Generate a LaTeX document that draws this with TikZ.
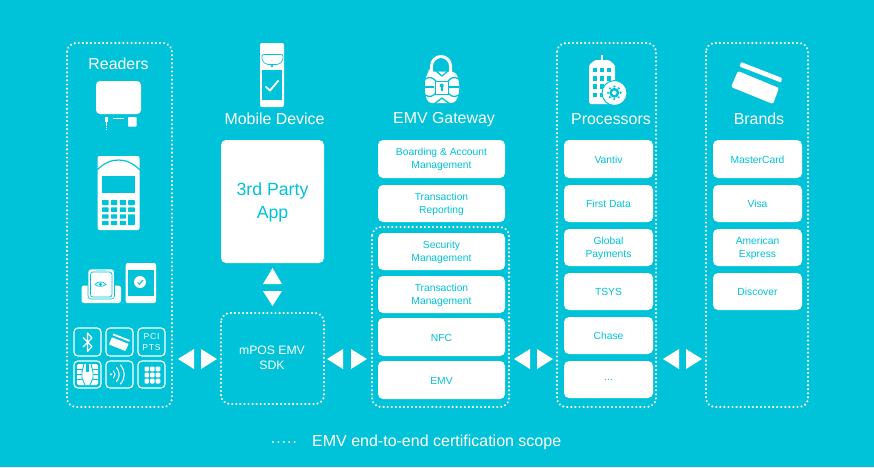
\documentclass[tikz,border=0pt]{standalone}
\usepackage{fontspec}
\setmainfont{Liberation Sans}
\newfontfamily\spacedfont[LetterSpace=9]{Liberation Sans}
\definecolor{teal0}{HTML}{00C3D9}
\tikzset{
  dotbox/.style={draw=white,line width=2.4pt,line cap=round,dash pattern=on 0.01pt off 4.05pt,rounded corners=9pt},
  wb/.style={fill=white,rounded corners=5pt,inner sep=0pt,outer sep=0pt},
  wbt/.style={text=teal0,inner sep=0pt,outer sep=0pt,align=center,font=\fontsize{10.3}{13}\selectfont},
  head/.style={text=white,inner sep=0pt,font=\fontsize{15.9}{18}\selectfont},
  iconline/.style={draw=white,line width=1.2pt,rounded corners=4pt},
  wave/.style={draw=white,line width=1.1pt,line cap=round},
  lockcut/.style={draw=teal0,line width=1.3pt}
}
\newcommand{\wbox}[6]{\node[wb,minimum width={(#4-#2)*1pt},minimum height={(#5-#3)*1pt}] (#1) at ({(#2+#4)/2},{(#3+#5)/2}) {};
\node[wbt] (#1t) at ([yshift=-0.7pt]#1.center) {#6};}
\newcommand{\lefttri}[1]{\fill[white] (#1) ++(-8,0) -- ++(16,-10) -- ++(0,20) -- cycle;}
\newcommand{\righttri}[1]{\fill[white] (#1) ++(8,0) -- ++(-16,-10) -- ++(0,20) -- cycle;}
\begin{document}
\begin{tikzpicture}[x=1pt,y=-1pt]
\fill[teal0] (0,0) rectangle (874,467);
\useasboundingbox (0,0) rectangle (874,467);
% dotted scopes
\draw[dotbox] (67,43) rectangle (172,407);
\draw[dotbox] (221,313) rectangle (324,404);
\draw[dotbox] (372,227) rectangle (509,407);
\draw[dotbox] (557,43) rectangle (656,407);
\draw[dotbox] (706,43) rectangle (808,407);
% headings
\node[head] (hr) at (118.5,63.5) {Readers};
\node[head] (hm) at (274.5,119.3) {Mobile Device};
\node[head] (hg) at (444,119.3) {EMV Gateway};
\node[head] (hp) at (611,119.3) {Processors};
\node[head] (hb) at (759,119.3) {Brands};
% white boxes
\node[wb,minimum width=103pt,minimum height=123pt] (app) at (272.5,201.5) {};
\node[wbt,font=\fontsize{17.7}{23}\selectfont] (appt) at (272.5,202.5) {3rd Party\\App};
\node[text=white,inner sep=0pt,align=center,font=\fontsize{12.2}{15}\selectfont] (sdk) at (272,358) {mPOS EMV\\SDK};
\wbox{g1}{378}{140}{505}{178}{Boarding \& Account\\Management}
\wbox{g2}{378}{185}{505}{222}{Transaction\\Reporting}
\wbox{g3}{378}{233}{505}{270}{Security\\Management}
\wbox{g4}{378}{276}{505}{313}{Transaction\\Management}
\wbox{g5}{378}{318}{505}{356}{NFC}
\wbox{g6}{378}{361}{505}{399}{EMV}
\wbox{p1}{564}{140}{653}{178}{Vantiv}
\wbox{p2}{564}{185}{653}{222}{First Data}
\wbox{p3}{564}{229}{653}{266}{Global\\Payments}
\wbox{p4}{564}{273}{653}{310}{TSYS}
\wbox{p5}{564}{317}{653}{354}{Chase}
\wbox{p6}{564}{361}{653}{398}{...}
\wbox{b1}{713}{140}{802}{178}{MasterCard}
\wbox{b2}{713}{185}{802}{222}{Visa}
\wbox{b3}{713}{229}{802}{266}{American\\Express}
\wbox{b4}{713}{273}{802}{310}{Discover}
% triangle arrows
\coordinate (a1l) at (186,359); \coordinate (a1r) at (209,359);
\coordinate (a2l) at (335,359); \coordinate (a2r) at (359,359);
\coordinate (a3l) at (522,359); \coordinate (a3r) at (545,359);
\coordinate (a4l) at (671,359); \coordinate (a4r) at (694,359);
\lefttri{a1l}\righttri{a1r}\lefttri{a2l}\righttri{a2r}\lefttri{a3l}\righttri{a3r}\lefttri{a4l}\righttri{a4r}
\coordinate (up) at (272.5,268); \coordinate (dn) at (272.5,306);
\fill[white] (up) -- ++(9.5,16) -- ++(-19,0) -- cycle;
\fill[white] (dn) -- ++(9.5,-15) -- ++(-19,0) -- cycle;
% legend
\coordinate (l1) at (273,442); \coordinate (l2) at (295.5,442);
\draw[white,line width=2.2pt,line cap=round,dash pattern=on 0.01pt off 5.4pt] (l1) -- (l2);
\node[text=white,inner sep=0pt,anchor=west,font=\fontsize{16}{18}\selectfont] (lt) at (312,442.8) {EMV end-to-end certification scope};
% reader 1
\fill[white,rounded corners=4pt] (96,81) rectangle (141,114);
\fill[white] (105,117) rectangle (108,122);
\draw[white,line width=1.8pt,dash pattern=on 1.5pt off .8pt] (106.5,122) -- (106.5,131);
\fill[white] (113,117.5) rectangle (124,119);
\fill[white,rounded corners=.7pt] (128,117) rectangle (136.5,126.5);
% reader 2
\fill[white,rounded corners=2pt] (97.5,156) rectangle (139.5,230);
\draw[teal0,line width=1.2pt] (97,170) .. controls (104,163) and (111,160) .. (118.5,160) .. controls (126,160) and (133,163) .. (140,170);
\fill[teal0] (102,176) rectangle (135,193);
\foreach \x/\w in {102/6.6,111/6.2,119.8/6.2,128.2/6.6}{
  \foreach \y/\h in {200/5,207.3/4.6,214.3/4.2,221/4.2}{
    \fill[teal0,rounded corners=.6pt] (\x,\y) rectangle ++(\w,\h);
  }
}
\fill[teal0] (128.2,216) rectangle (134.8,223);
% reader 3 dock
\fill[white,rounded corners=2.5pt] (81.5,285.5) rectangle (121,303);
\fill[white,rounded corners=3pt,draw=teal0,line width=.6pt] (88,269) rectangle (114.5,299);
\draw[teal0,line width=.7pt,rounded corners=2.5pt] (90.5,272) rectangle (112,297);
\fill[teal0!35!white] (96,270) rectangle (106,271.5);
\draw[teal0,line width=.7pt] (95,284.5) .. controls (98,281) and (103,281) .. (106,284.5) .. controls (103,287) and (98,287) .. (95,284.5);
\fill[teal0] (100.5,284.3) circle (1.7);
% phone
\fill[white,rounded corners=2pt] (125.7,263) rectangle (156,303);
\fill[teal0] (127.8,269.5) rectangle (154,296);
\fill[white] (140,282) circle (6);
\draw[teal0,line width=1pt] (137.5,282.5) -- (139.3,284.3) -- (143,280);
% six icons
\draw[iconline] (74,328) rectangle (101,356);
\draw[iconline] (106,328) rectangle (133,356);
\draw[iconline] (138,328) rectangle (165,356);
\draw[iconline] (74,361) rectangle (101,388);
\draw[iconline] (106,361) rectangle (133,388);
\draw[iconline] (138,361) rectangle (165,388);
% bluetooth
\draw[white,line width=1.3pt,line join=round] (83,337.5) -- (92,346.5) -- (87.5,351.5) -- (87.5,333) -- (92,338) -- (83,347);
% card small
\fill[white] (113.3,333.5) -- (130,340) -- (129.4,341.7) -- (112.7,335.2) -- cycle;
\fill[white,rounded corners=.6pt] (111.9,337.3) -- (128.6,343.9) -- (125.4,351) -- (109,344.5) -- cycle;
% PCI PTS
\node[text=white,inner sep=0pt,align=center,font=\spacedfont\fontsize{8.6}{11}\selectfont] (pci) at (151.5,342) {PCI\\PTS};
% chip
\fill[white,rounded corners=1.5pt] (77,364) rectangle (98,385);
\draw[teal0,line width=.8pt] (77,369.5) -- (82,369.5) (77,374.5) -- (82,374.5) (77,379.5) -- (82,379.5) (93,369.5) -- (98,369.5) (93,374.5) -- (98,374.5) (93,379.5) -- (98,379.5);
\draw[teal0,line width=.9pt] (84,364) -- (82,372) -- (82,378) -- (85,385) (91,364) -- (93,372) -- (93,378) -- (90,385);
\fill[teal0] (86.3,364) rectangle (88.7,372);
% contactless
\fill[white] (111,374.3) circle (1.2);
\draw[wave] (113.5,371) .. controls (115.5,373) and (115.5,376) .. (113.5,378);
\draw[wave] (116.5,367.5) .. controls (120,372) and (120,377) .. (116.5,381.5);
\draw[wave] (120.5,365) .. controls (125.5,371) and (125.5,378) .. (120.5,384);
% keypad
\foreach \x in {144.5,150.1,155.7}{
  \foreach \y in {366.5,372.6,378.7}{
    \fill[white,rounded corners=1pt] (\x,\y) rectangle ++(4.6,4.8);
  }
}
% mobile device icon
\fill[white,rounded corners=2pt] (260,43) rectangle (284,107);
\fill[teal0] (262,70) rectangle (282,100);
\draw[teal0,line width=.7pt,rounded corners=2pt,fill=white] (262,54.5) -- (283,54.5) -- (283,60.5) -- (279,64.5) -- (266,64.5) -- (262,60.5) -- cycle;
\fill[teal0] (272,66) circle (1.4);
\draw[white,line width=1.8pt] (265.5,86.5) -- (270,90.5) -- (278.5,80.5);
% lock
\draw[white,line width=3pt] (431.5,74) -- (431.5,66) arc (180:360:9.5) -- (450.5,74);
\fill[white,rounded corners=3pt] (429,71.5) -- (454,71.5) .. controls (458,76) and (459,82) .. (459,87) .. controls (459,93) and (458,98) .. (454,103) -- (429,103) .. controls (426,98) and (425,93) .. (425,87) .. controls (425,82) and (426,76) .. (429,71.5) -- cycle;
\draw[lockcut] (425,79) .. controls (430,76) and (433,78) .. (436,81);
\draw[lockcut] (459,79) .. controls (454,76) and (451,78) .. (448,81);
\draw[lockcut] (425,87) -- (434,87) (459,87) -- (449,87);
\draw[lockcut] (425,95) .. controls (430,98) and (433,96) .. (436,93);
\draw[lockcut] (459,95) .. controls (454,98) and (451,96) .. (448,93);
\draw[lockcut] (436,71) -- (442,76) -- (448,71) (434,104) -- (442,98) -- (450,104);
\draw[teal0,line width=.9pt,fill=white] (435,81) rectangle (448.5,94);
\fill[teal0] (441.7,85.5) circle (2);
\fill[teal0] (440.9,86) rectangle (442.5,90.5);
% building
\fill[white] (600.5,55) rectangle (603,61);
\fill[white,rounded corners=1.5pt] (589,104) -- (589,65) -- (595,60) -- (609,60) -- (615,65) -- (615,104) -- cycle;
\foreach \x in {593,600,607}{
  \foreach \y in {67.7,76,84.3,92.7}{
    \fill[teal0] (\x,\y) rectangle ++(3.6,4.7);
  }
}
\draw[teal0,line width=1pt,fill=white] (614.5,93) circle (12.5);
\fill[teal0] (614.3,92.8) circle (5);
\foreach \a in {0,45,...,315}{\fill[teal0] (614.3,92.8) ++(\a:6.3) circle (1.2);}
\fill[white] (614.3,92.8) circle (2.2);
% brand card
\fill[white,rounded corners=1pt] (741,62) -- (782,78) -- (781,82.5) -- (739.5,66.5) -- cycle;
\fill[white,rounded corners=1.5pt] (738,71) -- (779,88) -- (773,104) -- (731,87) -- cycle;
\end{tikzpicture}
\end{document}
